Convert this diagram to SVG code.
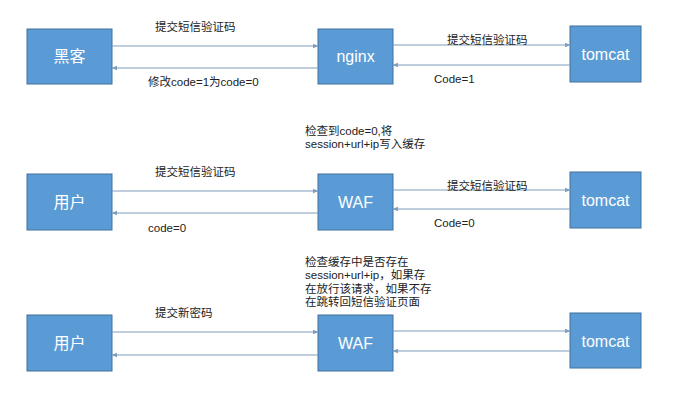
<svg xmlns="http://www.w3.org/2000/svg" width="690" height="401" viewBox="0 0 690 401">
<style>
.box{fill:#5b9bd5;stroke:#41719c;stroke-width:1}
.bt{fill:#fff;font-family:"Liberation Sans","Noto Sans CJK SC",sans-serif;font-size:16px;text-anchor:middle}
.lb{fill:#222;font-family:"Liberation Sans","Noto Sans CJK SC",sans-serif;font-size:11.5px}
.ar{stroke:#7f9dbd;stroke-width:1.2;fill:none;marker-end:url(#ah)}
</style>
<defs>
<marker id="ah" viewBox="0 0 10 10" refX="9" refY="5" markerWidth="6" markerHeight="6" orient="auto" markerUnits="userSpaceOnUse">
<path d="M0,1 L10,5 L0,9 z" fill="#7f9dbd"/>
</marker>
</defs>
<rect width="690" height="401" fill="#fff"/>
<g id="hacker"><rect class="box" x="27" y="29" width="85" height="55"/><text class="bt" x="69.5" y="62" font-size="17">黑客</text></g>
<g id="nginx"><rect class="box" x="318" y="29" width="75" height="55"/><text class="bt" x="355.5" y="62">nginx</text></g>
<g id="tomcat1"><rect class="box" x="570" y="26" width="71" height="56"/><text class="bt" x="605.5" y="60">tomcat</text></g>
<g id="user2"><rect class="box" x="27" y="174" width="85" height="56"/><text class="bt" x="69.5" y="208" font-size="17">用户</text></g>
<g id="waf2"><rect class="box" x="318" y="174" width="75" height="56"/><text class="bt" x="355.5" y="208">WAF</text></g>
<g id="tomcat2"><rect class="box" x="570" y="172" width="71" height="56"/><text class="bt" x="605.5" y="206">tomcat</text></g>
<g id="user3"><rect class="box" x="27" y="315" width="85" height="56"/><text class="bt" x="69.5" y="349" font-size="17">用户</text></g>
<g id="waf3"><rect class="box" x="318" y="315" width="75" height="56"/><text class="bt" x="355.5" y="349">WAF</text></g>
<g id="tomcat3"><rect class="box" x="570" y="313" width="71" height="55"/><text class="bt" x="605.5" y="347">tomcat</text></g>
<g id="connectors">
<line class="ar" x1="112" y1="46" x2="318" y2="46"/>
<line class="ar" x1="318" y1="68" x2="112" y2="68"/>
<line class="ar" x1="393" y1="45" x2="570" y2="45"/>
<line class="ar" x1="570" y1="65" x2="393" y2="65"/>
<line class="ar" x1="112" y1="191" x2="318" y2="191"/>
<line class="ar" x1="318" y1="213" x2="112" y2="213"/>
<line class="ar" x1="393" y1="190" x2="570" y2="190"/>
<line class="ar" x1="570" y1="209" x2="393" y2="209"/>
<line class="ar" x1="112" y1="332" x2="318" y2="332"/>
<line class="ar" x1="318" y1="355" x2="112" y2="355"/>
<line class="ar" x1="393" y1="331" x2="570" y2="331"/>
<line class="ar" x1="570" y1="351" x2="393" y2="351"/>
</g>
<g id="labels">
<text class="lb" x="155" y="31">提交短信验证码</text>
<text class="lb" x="148" y="86">修改code=1为code=0</text>
<text class="lb" x="447" y="44">提交短信验证码</text>
<text class="lb" x="434" y="83">Code=1</text>
<text class="lb" x="305" y="135">检查到code=0,将</text>
<text class="lb" x="305" y="148">session+url+ip写入缓存</text>
<text class="lb" x="155" y="176">提交短信验证码</text>
<text class="lb" x="148" y="232">code=0</text>
<text class="lb" x="447" y="190">提交短信验证码</text>
<text class="lb" x="434" y="227">Code=0</text>
<text class="lb" x="305" y="266">检查缓存中是否存在</text>
<text class="lb" x="305" y="279">session+url+ip，如果存</text>
<text class="lb" x="305" y="293">在放行该请求，如果不存</text>
<text class="lb" x="305" y="306">在跳转回短信验证页面</text>
<text class="lb" x="155" y="317">提交新密码</text>
</g>
</svg>
